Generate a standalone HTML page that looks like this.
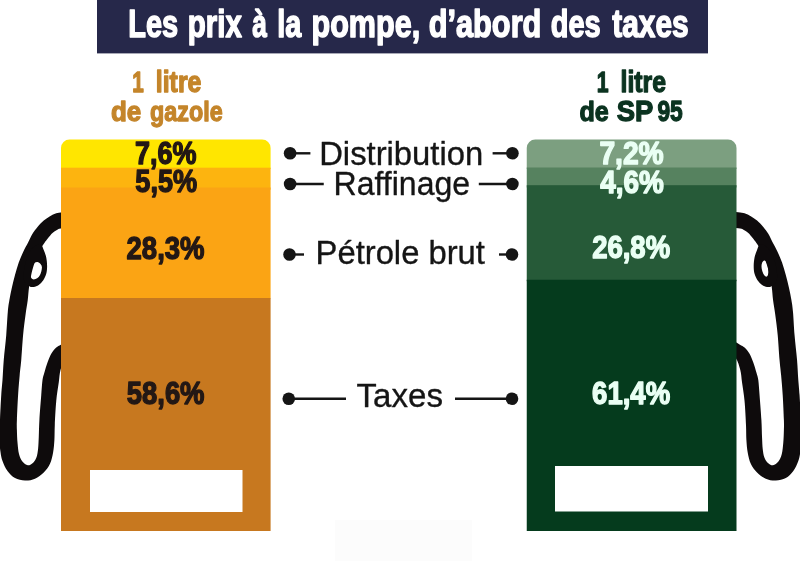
<!DOCTYPE html>
<html lang="fr">
<head>
<meta charset="utf-8">
<title>Les prix à la pompe, d’abord des taxes</title>
<style>
html,body{margin:0;padding:0;background:#fff;}
body{width:800px;height:561px;overflow:hidden;}
svg{display:block;}
text{font-family:"Liberation Sans",Arial,Helvetica,sans-serif;}
</style>
</head>
<body>
<svg width="800" height="561" viewBox="0 0 800 561" role="img" aria-label="Les prix à la pompe, d’abord des taxes">
  <rect width="800" height="561" fill="#ffffff"/>
  <defs>
    <clipPath id="cl"><rect x="61" y="139.400" width="209.600" height="420" rx="8.500" ry="8.500"/></clipPath>
    <clipPath id="cr"><rect x="526.750" y="139.400" width="209.750" height="420" rx="8.500" ry="8.500"/></clipPath>
    <g id="hose" fill="#0e0b0c">
      <path d="M80.00,212.00 C78.33,209.37 73.23,211.72 70.00,211.80 C66.77,211.88 63.10,212.18 60.60,212.50 C58.10,212.82 56.77,213.12 55.00,213.75 C53.23,214.38 51.88,215.11 50.00,216.25 C48.12,217.39 45.83,218.82 43.75,220.60 C41.67,222.38 39.38,224.71 37.50,226.90 C35.62,229.09 34.07,231.15 32.50,233.75 C30.93,236.35 29.62,239.54 28.10,242.50 C26.58,245.46 24.96,248.17 23.40,251.50 C21.84,254.83 20.15,258.58 18.75,262.50 C17.35,266.42 16.14,270.83 15.00,275.00 C13.86,279.17 12.83,283.33 11.90,287.50 C10.97,291.67 10.08,295.92 9.40,300.00 C8.72,304.08 8.32,306.17 7.80,312.00 C7.27,317.83 6.92,327.00 6.25,335.00 C5.58,343.00 4.38,352.50 3.75,360.00 C3.12,367.50 2.92,374.17 2.50,380.00 C2.08,385.83 1.67,388.33 1.25,395.00 C0.83,401.67 0.29,412.50 0.00,420.00 C-0.29,427.50 -0.58,434.67 -0.50,440.00 C-0.42,445.33 0.00,448.50 0.50,452.00 C1.00,455.50 1.33,457.83 2.50,461.00 C3.67,464.17 5.42,468.17 7.50,471.00 C9.58,473.83 12.08,476.40 15.00,478.00 C17.92,479.60 21.67,480.48 25.00,480.60 C28.33,480.73 31.88,480.10 35.00,478.75 C38.12,477.40 41.25,475.00 43.75,472.50 C46.25,470.00 48.44,467.08 50.00,463.75 C51.56,460.42 52.37,456.46 53.10,452.50 C53.83,448.54 54.12,444.58 54.40,440.00 C54.68,435.42 54.49,431.50 54.80,425.00 C55.11,418.50 55.59,408.08 56.25,401.00 C56.91,393.92 58.04,387.67 58.75,382.50 C59.46,377.33 59.46,374.08 60.50,370.00 C61.54,365.92 62.75,361.67 65.00,358.00 C67.25,354.33 70.83,350.33 74.00,348.00 C77.17,345.67 82.33,346.00 84.00,344.00 C85.67,342.00 86.00,336.92 84.00,336.00 C82.00,335.08 75.79,337.10 72.00,338.50 C68.21,339.90 63.88,342.90 61.25,344.40 C58.62,345.90 57.92,345.94 56.25,347.50 C54.58,349.06 52.71,351.25 51.25,353.75 C49.79,356.25 48.64,359.38 47.50,362.50 C46.36,365.62 45.23,369.58 44.40,372.50 C43.57,375.42 43.02,376.25 42.50,380.00 C41.98,383.75 41.77,388.33 41.25,395.00 C40.73,401.67 39.82,412.92 39.40,420.00 C38.98,427.08 38.97,432.71 38.75,437.50 C38.53,442.29 38.46,445.50 38.10,448.75 C37.74,452.00 37.38,454.73 36.60,457.00 C35.82,459.27 34.87,461.02 33.40,462.40 C31.93,463.78 29.63,465.43 27.80,465.30 C25.97,465.17 23.87,463.48 22.40,461.60 C20.93,459.72 19.82,457.18 19.00,454.00 C18.18,450.82 17.85,446.50 17.50,442.50 C17.15,438.50 17.00,433.75 16.90,430.00 C16.80,426.25 16.70,425.83 16.90,420.00 C17.10,414.17 17.63,402.50 18.10,395.00 C18.57,387.50 19.18,380.83 19.70,375.00 C20.22,369.17 20.68,366.67 21.25,360.00 C21.82,353.33 22.39,342.50 23.10,335.00 C23.81,327.50 24.73,320.83 25.50,315.00 C26.27,309.17 27.17,304.58 27.75,300.00 C28.33,295.42 28.43,291.67 29.00,287.50 C29.57,283.33 30.45,278.58 31.20,275.00 C31.95,271.42 32.62,268.92 33.50,266.00 C34.38,263.08 35.42,260.17 36.50,257.50 C37.58,254.83 38.68,252.40 40.00,250.00 C41.32,247.60 43.05,245.08 44.40,243.10 C45.75,241.12 46.75,239.77 48.10,238.10 C49.45,236.43 51.03,234.45 52.50,233.10 C53.97,231.75 55.55,230.77 56.90,230.00 C58.25,229.23 58.42,228.87 60.60,228.50 C62.78,228.13 66.77,227.95 70.00,227.80 C73.23,227.65 78.33,230.23 80.00,227.60 C81.67,224.97 81.67,214.63 80.00,212.00Z"/>
    </g>
    <path id="gripL" fill="#0e0b0c" fill-rule="evenodd" d="M40.00,244.00 C42.12,244.00 42.71,247.75 43.75,250.00 C44.79,252.25 45.69,254.79 46.25,257.50 C46.81,260.21 47.10,263.54 47.10,266.25 C47.10,268.96 46.92,271.36 46.25,273.75 C45.58,276.14 44.35,278.73 43.10,280.60 C41.85,282.48 40.31,283.95 38.75,285.00 C37.19,286.05 35.31,286.69 33.75,286.90 C32.19,287.11 31.02,287.40 29.40,286.25 C27.77,285.10 24.73,283.54 24.00,280.00 C23.27,276.46 23.83,270.00 25.00,265.00 C26.17,260.00 28.50,253.50 31.00,250.00 C33.50,246.50 37.88,244.00 40.00,244.00Z M37.50,262.00 C38.50,262.17 39.77,263.17 40.50,264.00 C41.23,264.83 41.77,265.75 41.90,267.00 C42.03,268.25 41.62,270.17 41.30,271.50 C40.98,272.83 40.63,273.92 40.00,275.00 C39.37,276.08 38.54,277.27 37.50,278.00 C36.46,278.73 34.78,279.40 33.75,279.40 C32.72,279.40 31.82,278.73 31.30,278.00 C30.78,277.27 30.62,276.33 30.60,275.00 C30.58,273.67 30.88,271.50 31.20,270.00 C31.52,268.50 31.95,267.17 32.50,266.00 C33.05,264.83 33.67,263.67 34.50,263.00 C35.33,262.33 36.50,261.83 37.50,262.00Z"/>
    <path id="gripR" fill="#0e0b0c" fill-rule="evenodd" d="M40.00,244.00 C42.12,244.00 42.71,247.75 43.75,250.00 C44.79,252.25 45.69,254.79 46.25,257.50 C46.81,260.21 47.10,263.54 47.10,266.25 C47.10,268.96 46.92,271.36 46.25,273.75 C45.58,276.14 44.35,278.73 43.10,280.60 C41.85,282.48 40.31,283.95 38.75,285.00 C37.19,286.05 35.31,286.69 33.75,286.90 C32.19,287.11 31.02,287.40 29.40,286.25 C27.77,285.10 24.73,283.54 24.00,280.00 C23.27,276.46 23.83,270.00 25.00,265.00 C26.17,260.00 28.50,253.50 31.00,250.00 C33.50,246.50 37.88,244.00 40.00,244.00Z M36.60,260.50 C37.17,260.75 38.15,261.58 38.60,262.50 C39.05,263.42 39.27,264.75 39.30,266.00 C39.33,267.25 39.08,268.75 38.80,270.00 C38.52,271.25 38.10,272.50 37.60,273.50 C37.10,274.50 36.40,275.48 35.80,276.00 C35.20,276.52 34.48,276.77 34.00,276.60 C33.52,276.43 33.15,275.93 32.90,275.00 C32.65,274.07 32.48,272.42 32.50,271.00 C32.52,269.58 32.75,267.83 33.00,266.50 C33.25,265.17 33.63,263.92 34.00,263.00 C34.37,262.08 34.77,261.42 35.20,261.00 C35.63,260.58 36.03,260.25 36.60,260.50Z"/>
  </defs>

  <rect x="335" y="520" width="137" height="41" fill="#fcfcfc"/>

  <!-- title banner -->
  <rect x="97" y="0" width="611" height="53.400" fill="#26284a"/>

  <!-- hoses -->
  <use href="#hose"/><use href="#gripL"/>
  <g transform="translate(800.8,0) scale(-1,1)"><use href="#hose"/><use href="#gripR"/></g>

  <!-- left pump -->
  <g clip-path="url(#cl)">
    <rect x="61" y="139" width="210" height="30" fill="#ffe600"/>
    <rect x="61" y="167.700" width="210" height="22" fill="#fdb40f"/>
    <rect x="61" y="187.500" width="210" height="111" fill="#fba414"/>
    <rect x="61" y="298" width="210" height="233" fill="#c7781f"/>
  </g>
  <rect x="90" y="470" width="152.500" height="42" fill="#ffffff"/>

  <!-- right pump -->
  <g clip-path="url(#cr)">
    <rect x="526" y="139" width="211" height="30" fill="#7c9f80"/>
    <rect x="526" y="167.500" width="211" height="20" fill="#56825f"/>
    <rect x="526" y="185.200" width="211" height="96" fill="#265a38"/>
    <rect x="526" y="279.750" width="211" height="251.250" fill="#053b1d"/>
  </g>
  <rect x="555" y="466" width="153" height="45.500" fill="#ffffff"/>

  <!-- texts -->
  <g>
    <text y="37.00" font-weight="700" fill="#ffffff" stroke="#ffffff" stroke-width="1.5" stroke-linejoin="round"><tspan x="128.23" font-size="38.6" textLength="49.96" lengthAdjust="spacingAndGlyphs">Les</tspan> <tspan x="187.85" font-size="38.6" textLength="54.02" lengthAdjust="spacingAndGlyphs">prix</tspan> <tspan x="252.31" font-size="38.6" textLength="14.63" lengthAdjust="spacingAndGlyphs">à</tspan> <tspan x="277.30" font-size="38.6" textLength="24.04" lengthAdjust="spacingAndGlyphs">la</tspan> <tspan x="311.55" font-size="38.6" textLength="108.61" lengthAdjust="spacingAndGlyphs">pompe,</tspan> <tspan x="428.70" font-size="38.6" textLength="112.69" lengthAdjust="spacingAndGlyphs">d’abord</tspan> <tspan x="550.75" font-size="38.6" textLength="49.94" lengthAdjust="spacingAndGlyphs">des</tspan> <tspan x="612.22" font-size="38.6" textLength="76.44" lengthAdjust="spacingAndGlyphs">taxes</tspan></text>
    <text y="92.00" font-weight="700" fill="#c4852a" stroke="#c4852a" stroke-width="1.3" stroke-linejoin="round"><tspan x="132.16" font-size="29.2" textLength="11.50" lengthAdjust="spacingAndGlyphs">1</tspan> <tspan x="155.82" font-size="29.2" textLength="45.54" lengthAdjust="spacingAndGlyphs">litre</tspan></text>
    <text y="120.50" font-weight="700" fill="#c4852a" stroke="#c4852a" stroke-width="1.3" stroke-linejoin="round"><tspan x="111.00" font-size="28.5" textLength="30.29" lengthAdjust="spacingAndGlyphs">de</tspan> <tspan x="150.04" font-size="28.5" textLength="72.68" lengthAdjust="spacingAndGlyphs">gazole</tspan></text>
    <text y="92.00" font-weight="700" fill="#0b3320" stroke="#0b3320" stroke-width="1.3" stroke-linejoin="round"><tspan x="596.84" font-size="29.2" textLength="11.83" lengthAdjust="spacingAndGlyphs">1</tspan> <tspan x="620.52" font-size="29.2" textLength="45.43" lengthAdjust="spacingAndGlyphs">litre</tspan></text>
    <text y="120.90" font-weight="700" fill="#0b3320" stroke="#0b3320" stroke-width="1.3" stroke-linejoin="round"><tspan x="579.51" font-size="28.5" textLength="29.26" lengthAdjust="spacingAndGlyphs">de</tspan> <tspan x="616.71" font-size="29.2" textLength="36.54" lengthAdjust="spacingAndGlyphs">SP</tspan> <tspan x="657.38" font-size="29.2" textLength="25.38" lengthAdjust="spacingAndGlyphs">95</tspan></text>
    <text x="135.04" y="163.90" font-weight="700" font-size="31.7" fill="#231815" stroke="#231815" stroke-width="1.4" stroke-linejoin="round" textLength="61.41" lengthAdjust="spacingAndGlyphs">7,6%</text>
    <text x="135.30" y="192.00" font-weight="700" font-size="31.0" fill="#231815" stroke="#231815" stroke-width="1.4" stroke-linejoin="round" textLength="61.84" lengthAdjust="spacingAndGlyphs">5,5%</text>
    <text x="126.55" y="259.25" font-weight="700" font-size="31.7" fill="#231815" stroke="#231815" stroke-width="1.4" stroke-linejoin="round" textLength="77.96" lengthAdjust="spacingAndGlyphs">28,3%</text>
    <text x="126.79" y="404.25" font-weight="700" font-size="31.7" fill="#231815" stroke="#231815" stroke-width="1.4" stroke-linejoin="round" textLength="77.72" lengthAdjust="spacingAndGlyphs">58,6%</text>
    <text x="599.41" y="164.25" font-weight="700" font-size="31.7" fill="#eafff4" stroke="#eafff4" stroke-width="1.4" stroke-linejoin="round" textLength="64.30" lengthAdjust="spacingAndGlyphs">7,2%</text>
    <text x="600.21" y="192.60" font-weight="700" font-size="31.0" fill="#eafff4" stroke="#eafff4" stroke-width="1.4" stroke-linejoin="round" textLength="63.54" lengthAdjust="spacingAndGlyphs">4,6%</text>
    <text x="592.15" y="258.25" font-weight="700" font-size="31.7" fill="#eafff4" stroke="#eafff4" stroke-width="1.4" stroke-linejoin="round" textLength="77.96" lengthAdjust="spacingAndGlyphs">26,8%</text>
    <text x="592.08" y="403.50" font-weight="700" font-size="31.7" fill="#eafff4" stroke="#eafff4" stroke-width="1.4" stroke-linejoin="round" textLength="78.02" lengthAdjust="spacingAndGlyphs">61,4%</text>
    <text x="319.17" y="164.60" font-weight="400" font-size="32.4" fill="#151515" stroke="#151515" stroke-width="0.35" stroke-linejoin="round" textLength="164.06" lengthAdjust="spacingAndGlyphs">Distribution</text>
    <text x="333.62" y="195.10" font-weight="400" font-size="32.4" fill="#151515" stroke="#151515" stroke-width="0.35" stroke-linejoin="round" textLength="136.45" lengthAdjust="spacingAndGlyphs">Raffinage</text>
    <text x="315.57" y="263.60" font-weight="400" font-size="32.4" fill="#151515" stroke="#151515" stroke-width="0.35" stroke-linejoin="round" textLength="169.37" lengthAdjust="spacingAndGlyphs">Pétrole brut</text>
    <text x="356.52" y="406.75" font-weight="400" font-size="32.4" fill="#151515" stroke="#151515" stroke-width="0.35" stroke-linejoin="round" textLength="86.47" lengthAdjust="spacingAndGlyphs">Taxes</text>
  </g>

  <!-- connectors -->
  <g stroke="#151515" stroke-width="2.400" fill="none">
    <line x1="290" y1="153.300" x2="310.400" y2="153.300"/>
    <line x1="492.600" y1="153.300" x2="512" y2="153.300"/>
    <line x1="290" y1="184" x2="323.750" y2="184"/>
    <line x1="478.800" y1="184" x2="512" y2="184"/>
    <line x1="290" y1="254.500" x2="304" y2="254.500"/>
    <line x1="499" y1="254.500" x2="512" y2="254.500"/>
    <line x1="289" y1="398.750" x2="346" y2="398.750"/>
    <line x1="455" y1="398.750" x2="512" y2="398.750"/>
  </g>
  <g fill="#151515">
    <circle cx="290.100" cy="153.300" r="6.300"/><circle cx="512.400" cy="153.300" r="6.300"/>
    <circle cx="290.100" cy="184" r="6.300"/><circle cx="512.400" cy="184" r="6.300"/>
    <circle cx="289.500" cy="254.500" r="6.300"/><circle cx="512" cy="254.500" r="6.300"/>
    <circle cx="288.750" cy="398.750" r="6.300"/><circle cx="512" cy="398.750" r="6.300"/>
  </g>
</svg>
</body>
</html>
